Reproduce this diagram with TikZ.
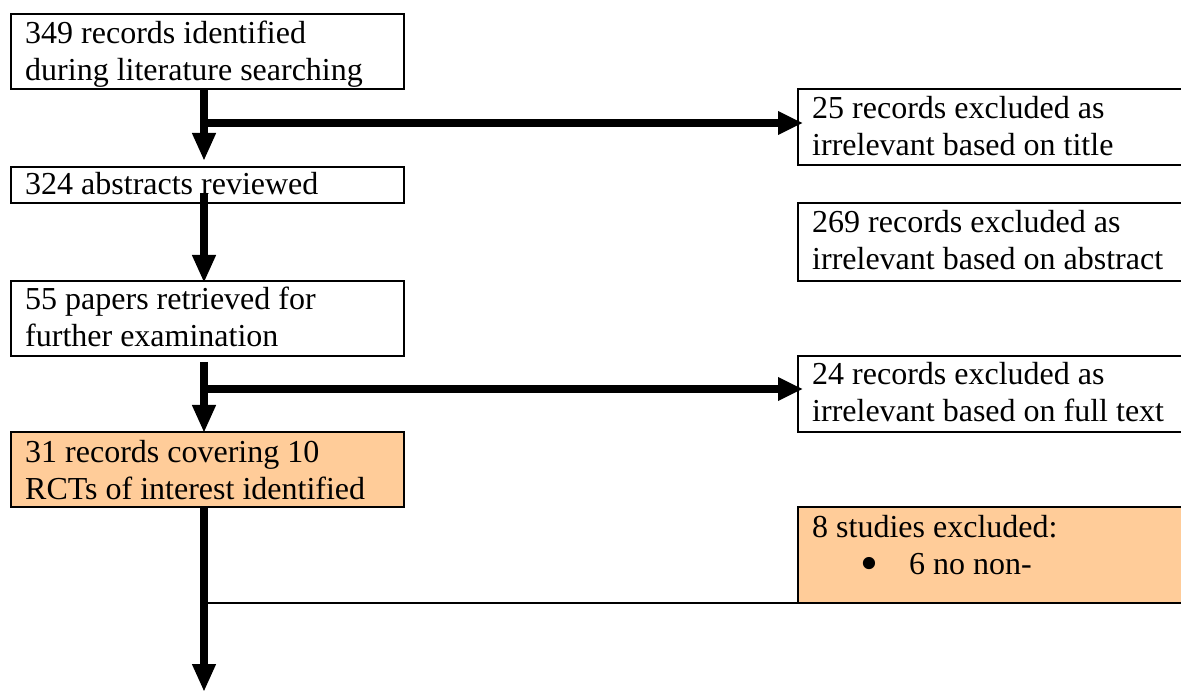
\documentclass[tikz,border=0pt]{standalone}
\usepackage{fontspec}
\setmainfont{Liberation Serif}
\usetikzlibrary{arrows.meta,calc}
\definecolor{peach}{HTML}{FFCC99}
\begin{document}
\begin{tikzpicture}[x=1pt,y=-1pt,
  box/.style={draw=black,line width=1.8pt,rectangle,inner sep=0pt,outer sep=0pt,anchor=north west},
  txt/.style={anchor=north west,inner sep=0pt,align=left,font=\fontsize{32}{36.8}\selectfont},
  vflow/.style={line width=8.5pt,-{Triangle[length=28pt 0,width=22pt 0]}},
  hflow/.style={line width=7.5pt,-{Triangle[length=25pt 0,width=22pt 0]}},
  thin/.style={line width=2pt}
]
\clip (0,0) rectangle (1181,692);
\fill[white] (0,0) rectangle (1181,692);
% left column boxes
\node[box,minimum width=393pt,minimum height=75pt] (b1) at (11,14) {};
\node[box,minimum width=393pt,minimum height=36pt] (b2) at (11,167) {};
\node[box,minimum width=393pt,minimum height=75pt] (b3) at (11,281) {};
\node[box,fill=peach,minimum width=393pt,minimum height=75pt] (b4) at (11,432) {};
% right column boxes
\node[box,minimum width=400pt,minimum height=76pt] (r1) at (798,89) {};
\node[box,minimum width=400pt,minimum height=78pt] (r2) at (798,203) {};
\node[box,minimum width=400pt,minimum height=76pt] (r3) at (798,356) {};
\node[box,fill=peach,minimum width=400pt,minimum height=96pt] (r4) at (798,507) {};
% texts
\node[txt] (t1) at (25,21) {349 records identified\\during literature searching};
\node[txt] (t2) at (25,172) {324 abstracts reviewed};
\node[txt] (t3) at (25,287) {55 papers retrieved for\\further examination};
\node[txt] (t4) at (25,440) {31 records covering 10\\RCTs of interest identified};
\node[txt] (u1) at (812,96) {25 records excluded as\\irrelevant based on title};
\node[txt] (u2) at (812,210) {269 records excluded as\\irrelevant based on abstract};
\node[txt] (u3) at (812,362) {24 records excluded as\\irrelevant based on full text};
\node[txt] (u4) at (812,515) {8 studies excluded:\\\hspace*{48pt}\makebox[49pt][l]{\smash{\raisebox{-6pt}{\scalebox{1.6}{•}}}}6 no non-};
% connector points
\coordinate (a1s) at (204,90);
\coordinate (a1e) at (204,161);
\coordinate (h1s) at (204,123);
\coordinate (h1e) at (803,123);
\coordinate (a2s) at (204,193);
\coordinate (a2e) at (204,283);
\coordinate (a3s) at (204,362);
\coordinate (a3e) at (204,433);
\coordinate (h2s) at (204,389);
\coordinate (h2e) at (803,389);
\coordinate (a4s) at (204,507);
\coordinate (a4e) at (204,692);
\coordinate (l1s) at (204,603);
\coordinate (l1e) at (1181,603);
% connectors
\draw[hflow] (h1s) -- (h1e);
\draw[vflow] (a1s) -- (a1e);
\draw[vflow] (a2s) -- (a2e);
\draw[hflow] (h2s) -- (h2e);
\draw[vflow] (a3s) -- (a3e);
\draw[thin] (l1s) -- (l1e);
\draw[vflow] (a4s) -- (a4e);
\end{tikzpicture}
\end{document}
